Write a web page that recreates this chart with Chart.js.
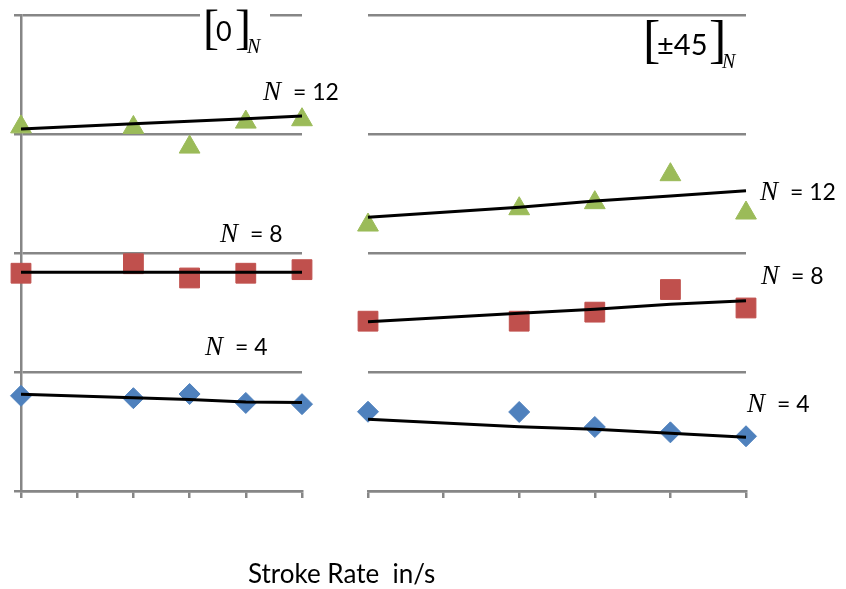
<!DOCTYPE html>
<html>
<head>
<meta charset="utf-8">
<script src="https://cdn.jsdelivr.net/npm/chart.js@4"></script>
<style>
  html, body { margin: 0; padding: 0; background: #fff; }
  #wrap { position: relative; width: 846px; height: 589px; }
  canvas { position: absolute; left: 0; top: 0; }
</style>
</head>
<body>
<div id="wrap">
  <canvas id="leftChart" width="846" height="589"></canvas>
  <canvas id="rightChart" width="846" height="589"></canvas>
</div>
<script>
// stroke rate positions (same for both panels)
const strokeRate = [0, 2, 3, 4, 5];
const plyCounts = [4, 8, 12];

// [0]_N panel - measured values
const zeroN4 = [0.80, 0.78, 0.815, 0.74, 0.73];
const zeroN8 = [1.83, 1.91, 1.79, 1.83, 1.86];
const zeroN12 = [3.06, 3.055, 2.89, 3.10, 3.12];
// [0]_N panel - trend lines
const zeroTrend4 = [0.813, 0.784, 0.769, 0.748, 0.744];
const zeroTrend8 = [1.838, 1.838, 1.838, 1.838, 1.838];
const zeroTrend12 = [3.042, 3.086, 3.107, 3.129, 3.151];

// [±45]_N panel - measured values
const angleN4 = [0.666, 0.664, 0.538, 0.493, 0.46];
const angleN8 = [1.427, 1.427, 1.503, 1.693, 1.538];
const angleN12 = [2.235, 2.372, 2.423, 2.658, 2.336];
// [±45]_N panel - trend lines
const angleTrend4 = [0.603, 0.540, 0.518, 0.485, 0.451];
const angleTrend8 = [1.423, 1.493, 1.527, 1.569, 1.599];
const angleTrend12 = [2.300, 2.384, 2.437, 2.479, 2.524];

const gridGray = '#868686';
const colors = { 4: '#4F81BD', 8: '#C0504D', 12: '#9BBB59' };
const shapes = { 4: 'rectRot', 8: 'rect', 12: 'triangle' };
const radii = { 4: 10.5, 8: 14, 12: 12 };

function toPoints(values) {
  return strokeRate.map((x, i) => ({ x: x, y: values[i] }));
}

function markerSet(n, values) {
  return {
    data: toPoints(values),
    showLine: false,
    pointStyle: shapes[n],
    pointRadius: radii[n],
    pointBackgroundColor: colors[n],
    pointBorderColor: colors[n],
    pointBorderWidth: 1,
    clip: false,
    order: 1
  };
}

function trendSet(values) {
  return {
    data: toPoints(values),
    showLine: true,
    borderColor: '#000',
    borderWidth: 3,
    pointRadius: 0,
    clip: false,
    order: 0
  };
}

// draws the panel labels on top of the chart
function textPlugin(items) {
  return {
    id: 'panelText',
    afterDraw(chart) {
      const ctx = chart.ctx;
      ctx.save();
      ctx.textBaseline = 'alphabetic';
      items.forEach(it => {
        if (it.clear) {
          ctx.fillStyle = '#fff';
          ctx.fillRect(it.clear[0], it.clear[1], it.clear[2], it.clear[3]);
        }
        ctx.fillStyle = '#000';
        ctx.font = it.font;
        ctx.fillText(it.text, it.x, it.y);
      });
      ctx.restore();
    }
  };
}

const serifN = 'italic 27px "Liberation Serif"';
const sansLbl = '23px Lato';

function nLabel(n, x, y) {
  return [
    { text: 'N', font: serifN, x: x, y: y },
    { text: '= ' + n, font: sansLbl, x: x + 30, y: y }
  ];
}

function makePanel(id, sets, trends, padding, showYAxis, labels) {
  const datasets = [];
  plyCounts.forEach((n, i) => {
    datasets.push(trendSet(trends[i]));
    datasets.push(markerSet(n, sets[i]));
  });
  return new Chart(document.getElementById(id), {
    type: 'scatter',
    data: { datasets: datasets },
    options: {
      responsive: false,
      animation: false,
      layout: { padding: padding },
      plugins: { legend: { display: false }, tooltip: { enabled: false } },
      scales: {
        x: {
          type: 'linear', min: 0, max: 5,
          ticks: { display: false, stepSize: 1 },
          grid: { drawOnChartArea: false, drawTicks: true, tickLength: 7, color: gridGray, lineWidth: 2.5 },
          border: { display: true, color: gridGray, width: 2.5 }
        },
        y: {
          type: 'linear', min: 0, max: 4,
          ticks: { display: false, stepSize: 1 },
          grid: { drawOnChartArea: true, drawTicks: showYAxis, tickLength: 7, color: gridGray, lineWidth: 2.5 },
          border: { display: showYAxis, color: gridGray, width: 2.5 }
        }
      }
    },
    plugins: [textPlugin(labels)]
  });
}

const leftLabels = [
  { text: '', font: '10px Lato', x: 0, y: 0, clear: [200, 8, 70, 14] },
  { text: '[', font: '48px "Liberation Serif"', x: 203, y: 43 },
  { text: '0', font: '27px Lato', x: 216, y: 41 },
  { text: ']', font: '48px "Liberation Serif"', x: 235, y: 43 },
  { text: 'N', font: 'italic 20px "Liberation Serif"', x: 247, y: 53 }
].concat(nLabel(12, 263, 100), nLabel(8, 220, 242), nLabel(4, 205, 355));

const rightLabels = [
  { text: '[', font: '52px "Liberation Serif"', x: 643, y: 57 },
  { text: '\u00B145', font: '29px Lato', x: 657, y: 55 },
  { text: ']', font: '52px "Liberation Serif"', x: 709, y: 57 },
  { text: 'N', font: 'italic 20px "Liberation Serif"', x: 722, y: 68 },
  { text: 'Stroke Rate  in/s', font: '26px Lato', x: 248, y: 583 }
].concat(nLabel(12, 760, 200), nLabel(8, 761, 284), nLabel(4, 747, 412));

makePanel('leftChart', [zeroN4, zeroN8, zeroN12], [zeroTrend4, zeroTrend8, zeroTrend12],
  { left: 14, top: 15, right: 544, bottom: 91 }, true, leftLabels);
makePanel('rightChart', [angleN4, angleN8, angleN12], [angleTrend4, angleTrend8, angleTrend12],
  { left: 368, top: 15, right: 100, bottom: 91 }, false, rightLabels);
</script>
</body>
</html>
